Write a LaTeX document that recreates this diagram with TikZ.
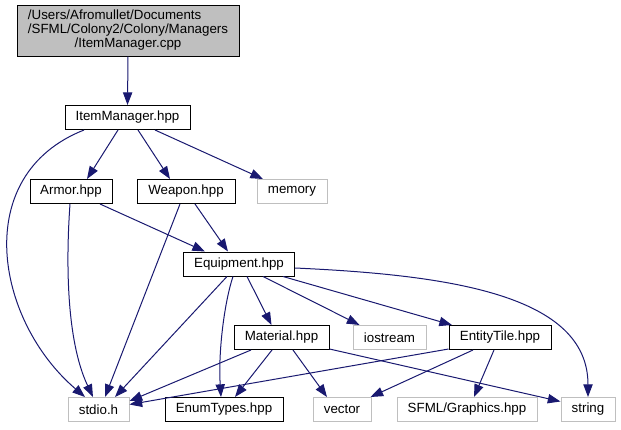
\documentclass[tikz,border=0pt]{standalone}
\usepackage{fontspec}
\setmainfont{Liberation Sans}
\usetikzlibrary{arrows.meta,calc}
\definecolor{edgeblue}{HTML}{191970}
\definecolor{sysgray}{HTML}{BFBFBF}

\begin{document}
\begin{tikzpicture}[x=0.75pt, y=-0.75pt,
  hdr/.style={draw=black, line width=0.75pt, inner sep=0pt, minimum height=18pt, font=\fontsize{10}{10.5}\selectfont},
  sys/.style={hdr, draw=sysgray},
  inc/.style={draw=edgeblue, line width=0.75pt, -{Triangle[length=9.5pt,width=7pt]}}]
\useasboundingbox (0,0) rectangle (621,429);
\node[hdr, fill=sysgray, minimum width=166.5pt, minimum height=38.25pt] (root) at (128,30.6)
  {\begin{tabular}{@{}l@{}}/Users/Afromullet/Documents\\/SFML/Colony2/Colony/Managers\\\multicolumn{1}{@{}c@{}}{/ItemManager.cpp}\end{tabular}};
\node[hdr, minimum width=93.75pt] (imgr) at (127.5,117.5) {ItemManager.hpp};
\node[hdr, minimum width=61.5pt] (armor) at (71,191.5) {Armor.hpp};
\node[hdr, minimum width=73.5pt] (weapon) at (186,191.5) {Weapon.hpp};
\node[sys, minimum width=52.5pt] (memory) at (292,191.5) {memory};
\node[hdr, minimum width=83.25pt] (equip) at (239,264) {Equipment.hpp};
\node[hdr, minimum width=71.25pt] (material) at (281.5,337.5) {Material.hpp};
\node[sys, minimum width=54.75pt] (iostream) at (389.5,337.5) {iostream};
\node[hdr, minimum width=76.5pt] (entity) at (500,337.5) {EntityTile.hpp};
\node[sys, minimum width=45.75pt] (stdio) at (98.5,409.5) {stdio.h};
\node[hdr, minimum width=88.5pt] (enum) at (224,409.5) {EnumTypes.hpp};
\node[sys, minimum width=43.5pt] (vector) at (342,409.5) {vector};
\node[sys, minimum width=105pt] (sfml) at (467,409.5) {SFML/Graphics.hpp};
\node[sys, minimum width=40.5pt] (string) at (588,409.5) {string};
\draw[inc] (root.south) -- (imgr.north);
\draw[inc] ($(imgr.south)+(-43.5,0)$) .. controls (-30,175) and (-5,320) .. ($(stdio.north)+(-13.5,0)$);
\draw[inc] ($(imgr.south)+(-9.5,0)$) -- ($(armor.north)+(16,0)$);
\draw[inc] ($(imgr.south)+(10.5,0)$) -- ($(weapon.north)+(-16,0)$);
\draw[inc] ($(imgr.south)+(27.5,0)$) -- ($(memory.north)+(-29,0)$);
\draw[inc] ($(armor.south)+(-1,0)$) .. controls (66,260) and (66,340) .. ($(stdio.north)+(-5.5,0)$);
\draw[inc] ($(armor.south)+(29,0)$) -- ($(equip.north)+(-34,0)$);
\draw[inc] ($(weapon.south)+(-6,0)$) -- ($(stdio.north)+(6.5,0)$);
\draw[inc] ($(weapon.south)+(9,0)$) -- ($(equip.north)+(-11,0)$);
\draw[inc] ($(equip.south)+(-12,0)$) -- ($(stdio.north)+(16.5,0)$);
\draw[inc] ($(equip.south)+(-6,0)$) .. controls (225,300) and (218,350) .. ($(enum.north)+(-3,0)$);
\draw[inc] ($(equip.south)+(8,0)$) -- ($(material.north)+(-10,0)$);
\draw[inc] ($(equip.south)+(24,0)$) -- ($(iostream.north)+(-30,0)$);
\draw[inc] ($(equip.south)+(44,0)$) -- ($(entity.north)+(-48,0)$);
\draw[inc] ($(equip.east)+(0,4)$) .. controls (450,275) and (588,295) .. (string.north);
\draw[inc] ($(material.south)+(-30.5,0)$) -- ($(stdio.east)+(0,-8.5)$);
\draw[inc] ($(material.south)+(-9.5,0)$) -- ($(enum.north)+(11,0)$);
\draw[inc] ($(material.south)+(11.5,0)$) -- ($(vector.north)+(-15,0)$);
\draw[inc] ($(material.south east)+(0,-1)$) -- ($(string.west)+(0,-8)$);
\draw[inc] ($(entity.south west)+(0,-1)$) -- ($(stdio.east)+(0,-5)$);
\draw[inc] ($(entity.south)+(-27,0)$) -- ($(vector.north east)+(-1,0)$);
\draw[inc] ($(entity.south)+(-6,0)$) -- ($(sfml.north)+(7,0)$);
\end{tikzpicture}
\end{document}
